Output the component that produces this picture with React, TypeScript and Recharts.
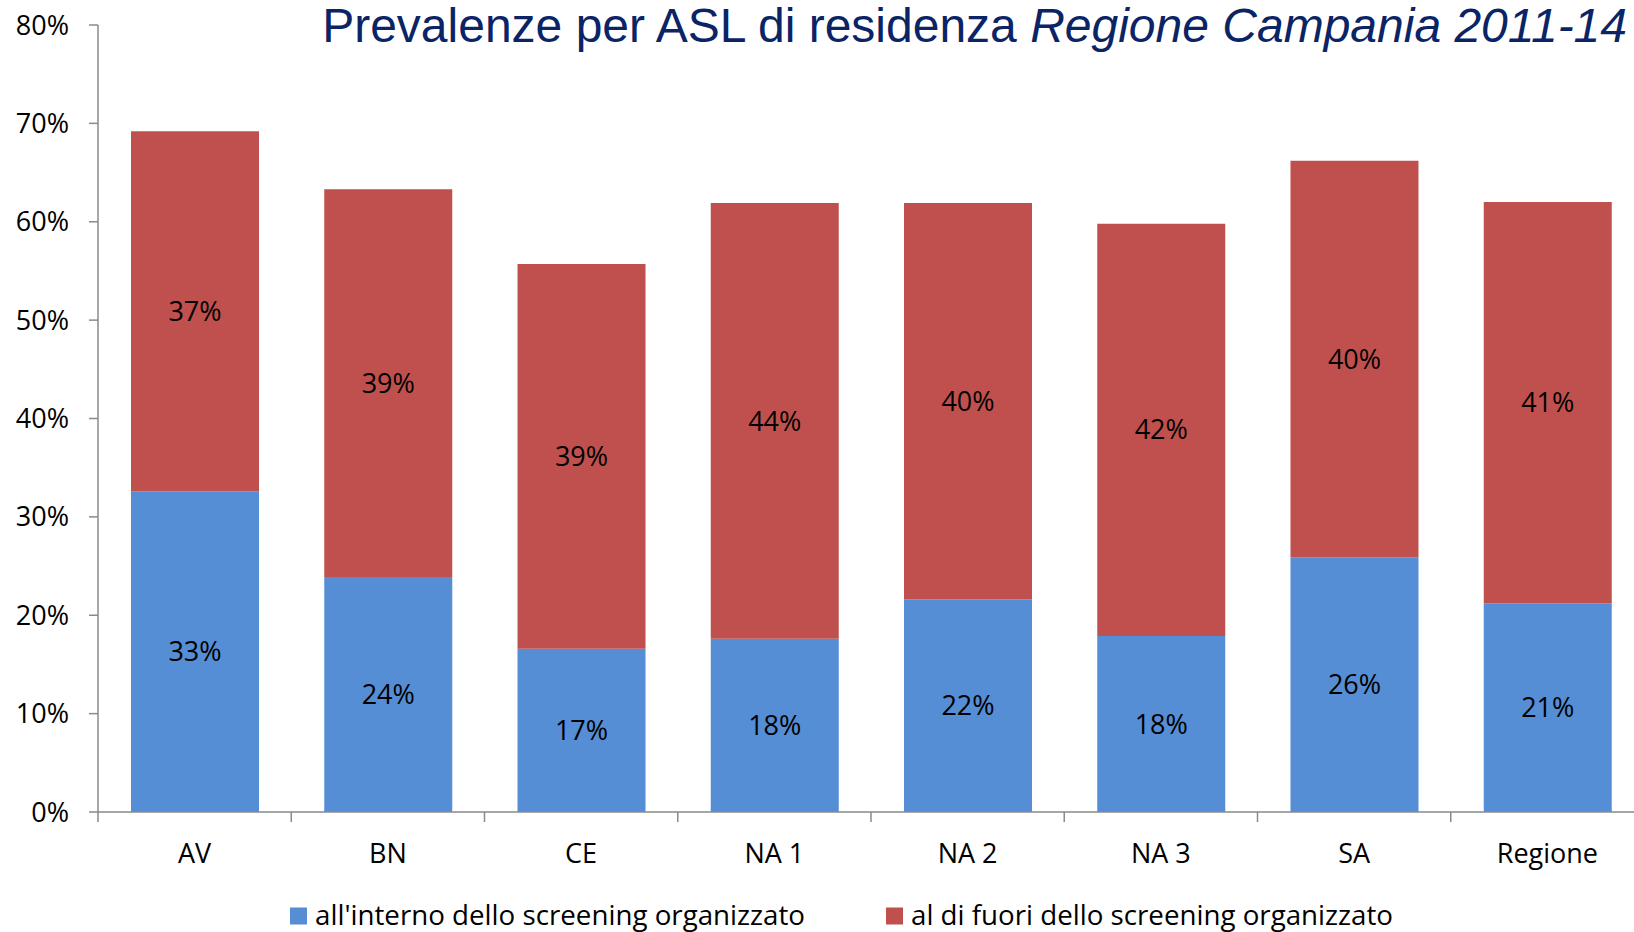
import React from 'react';
import { BarChart, Bar, XAxis, YAxis, Legend, LabelList } from 'recharts';

const categories = ['AV', 'BN', 'CE', 'NA 1', 'NA 2', 'NA 3', 'SA', 'Regione'];
const interno = [32.6, 23.9, 16.6, 17.6, 21.6, 17.9, 25.9, 21.2];
const fuori = [36.6, 39.4, 39.1, 44.3, 40.3, 41.9, 40.3, 40.8];
const yTicks = [0, 10, 20, 30, 40, 50, 60, 70, 80];
const seriesKeys = ['interno', 'fuori'];
const seriesNames = ["all'interno dello screening organizzato", 'al di fuori dello screening organizzato'];

const data = categories.map((c, i) => ({ name: c, interno: interno[i], fuori: fuori[i] }));

const FONT = '"Open Sans", "Noto Sans", sans-serif';
const BLUE = '#558ED5';
const RED = '#C0504D';
const AXIS = '#8A8A8A';

const CHART_W = 1660;
const CHART_H = 932;
const LEFT = 98;
const RIGHT_M = 16;
const PLOT_BOTTOM = 812;
const BAND = (CHART_W - LEFT - RIGHT_M) / categories.length;

const XTick = (props: any) => {
  const { x, payload } = props;
  const bx = x - BAND / 2;
  return (
    <g>
      <line x1={bx} y1={PLOT_BOTTOM} x2={bx} y2={PLOT_BOTTOM + 10} stroke={AXIS} strokeWidth={1.5} />
      <text x={x} y={863} textAnchor="middle" fontSize={27} fontFamily={FONT} fill="#000">
        {payload.value}
      </text>
    </g>
  );
};

const legendLayout = [
  { sq: 290, tx: 315, len: 490 },
  { sq: 886, tx: 911, len: 482 },
];

const LegendContent = (props: any) => {
  const payload = [...(props.payload || [])].sort(
    (a: any, b: any) => seriesKeys.indexOf(a.dataKey) - seriesKeys.indexOf(b.dataKey)
  );
  return (
    <svg width={1634} height={36} style={{ display: 'block' }}>
      {payload.map((p: any, i: number) => {
        const l = legendLayout[i] || legendLayout[0];
        return (
          <g key={i}>
            <rect x={l.sq} y={11.5} width={17} height={17} fill={p.color} />
            <text
              x={l.tx}
              y={29}
              fontSize={28}
              fontFamily={FONT}
              fill="#000"
              textLength={l.len}
              lengthAdjust="spacingAndGlyphs"
            >
              {p.value}
            </text>
          </g>
        );
      })}
    </svg>
  );
};

const fmt = (v: any) => `${Math.round(Number(v))}%`;

export default function App() {
  return (
    <div
      style={{
        position: 'absolute',
        left: 0,
        top: 0,
        width: 1634,
        height: 932,
        overflow: 'hidden',
        background: '#fff',
        fontFamily: FONT,
      }}
    >
      <svg
        width={1634}
        height={60}
        style={{ position: 'absolute', left: 0, top: 0, zIndex: 2, pointerEvents: 'none' }}
      >
        <text
          x={1627}
          y={42}
          textAnchor="end"
          fontFamily='"Liberation Sans", Arial, sans-serif'
          fontSize={48}
          fill="#0A2466"
        >
          <tspan>Prevalenze per ASL di residenza </tspan>
          <tspan fontStyle="italic">Regione Campania 2011-14</tspan>
        </text>
      </svg>
      <BarChart
        width={CHART_W}
        height={CHART_H}
        data={data}
        margin={{ top: 25, right: RIGHT_M, left: 0, bottom: 0 }}
        barSize={128}
      >
        <XAxis
          dataKey="name"
          height={CHART_H - PLOT_BOTTOM}
          axisLine={{ stroke: AXIS, strokeWidth: 1.5 }}
          tickLine={false}
          tick={<XTick />}
          interval={0}
        />
        <YAxis
          width={LEFT}
          domain={[0, 80]}
          ticks={yTicks}
          interval={0}
          tickFormatter={(v: number) => `${v}%`}
          axisLine={{ stroke: AXIS, strokeWidth: 1.5 }}
          tickLine={{ stroke: AXIS, strokeWidth: 1.5 }}
          tickSize={9}
          tickMargin={20}
          tick={{ fill: '#000', fontSize: 27, fontFamily: FONT }}
        />
        <Legend
          layout="horizontal"
          verticalAlign="middle"
          align="center"
          content={<LegendContent />}
          wrapperStyle={{ top: 896, left: 0, width: 1634, height: 36 }}
        />
        <Bar dataKey="interno" name={seriesNames[0]} stackId="a" fill={BLUE} isAnimationActive={false}>
          <LabelList dataKey="interno" position="center" formatter={fmt} fill="#000" fontSize={27} fontFamily={FONT} />
        </Bar>
        <Bar dataKey="fuori" name={seriesNames[1]} stackId="a" fill={RED} isAnimationActive={false}>
          <LabelList dataKey="fuori" position="center" formatter={fmt} fill="#000" fontSize={27} fontFamily={FONT} />
        </Bar>
      </BarChart>
    </div>
  );
}
